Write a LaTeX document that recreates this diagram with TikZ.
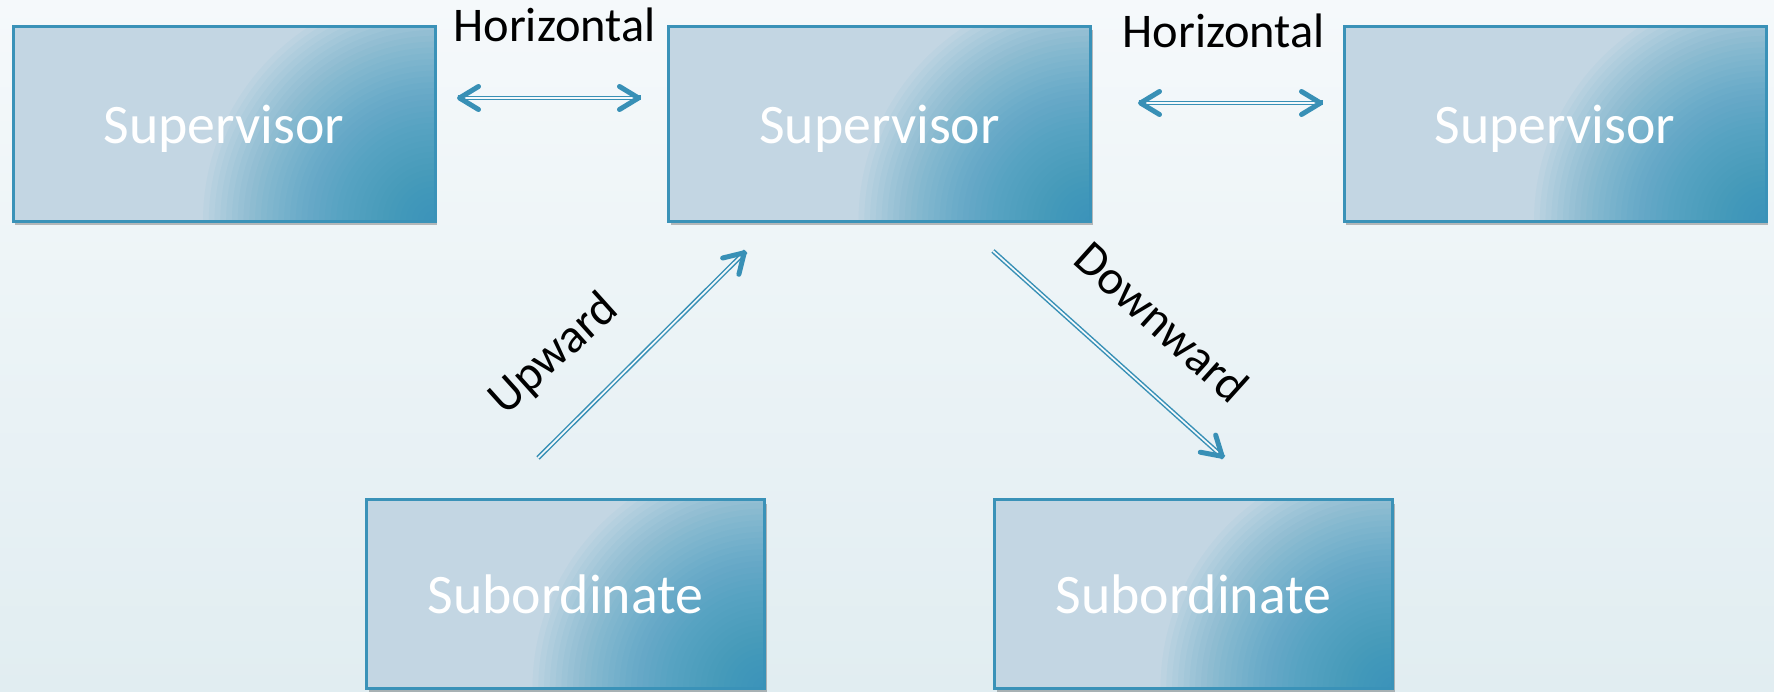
\documentclass[tikz,border=0pt]{standalone}
\usepackage{fontspec}
\setmainfont{Carlito}
\usetikzlibrary{arrows.meta,shadows,calc}

\definecolor{bgtop}{HTML}{F5F9FB}
\definecolor{bgbot}{HTML}{E1EDF1}
\definecolor{boxlight}{HTML}{C3D6E3}
\definecolor{boxdark}{HTML}{2A91BA}
\definecolor{boxedge}{HTML}{3A92B8}
\definecolor{arrowblue}{HTML}{3890B6}

\tikzset{
  rolebox/.style={
    draw=boxedge, line width=3pt, fill=boxlight,
    text=white, font=\fontsize{55.8}{60}\selectfont,
    inner sep=0pt, text depth=0pt,
    drop shadow={shadow xshift=2pt, shadow yshift=-4pt, fill=black, opacity=0.25},
    % darkening glow spreading from the lower right corner
    path picture={
      \foreach \k in {1,...,40}
        \fill[boxdark, opacity=0.045]
          (path picture bounding box.south east) circle ({5.8*\k pt});
    }},
  supbox/.style={rolebox, minimum width=422pt, minimum height=195pt},
  subbox/.style={rolebox, minimum width=398pt, minimum height=189pt},
  lbl/.style={text=black, font=\fontsize{48.4}{52}\selectfont, inner sep=0pt},
  shaft/.style={draw=arrowblue, line width=1.5pt, double=bgtop, double distance=1.7pt},
  barb/.style={draw=arrowblue, line width=5pt,
    -{Straight Barb[length=19pt, width=23pt, line width=5pt, round]}},
}

\begin{document}
\begin{tikzpicture}[x=1pt, y=-1pt]
  \useasboundingbox (0,0) rectangle (1774,692);
  % page background
  \shade[top color=bgtop, middle color=bgtop, bottom color=bgbot]
    (0,0) rectangle (1774,692);

  % supervisors and subordinates
  \node[supbox] (supL) at (224,124)    {Supervisor};
  \node[supbox] (supC) at (879.5,124)  {Supervisor};
  \node[supbox] (supR) at (1555,124)   {Supervisor};
  \node[subbox] (subL) at (565.5,594)  {Subordinate};
  \node[subbox] (subR) at (1193.5,594) {Subordinate};

  % arrow end points
  \coordinate (h1a) at (457,98);
  \coordinate (h1b) at (641,98);
  \coordinate (h2a) at (1138,103);
  \coordinate (h2b) at (1323,103);
  \coordinate (upA) at (538,458);
  \coordinate (upB) at (746,251);
  \coordinate (dnA) at (993,251);
  \coordinate (dnB) at (1224,458);

  % horizontal communication
  \draw[shaft, shorten <=5pt, shorten >=5pt] (h1a) -- (h1b);
  \draw[barb] ($(h1a)!0.5pt!(h1b)$) -- (h1a);
  \draw[barb] ($(h1b)!0.5pt!(h1a)$) -- (h1b);
  \draw[shaft, shorten <=5pt, shorten >=5pt] (h2a) -- (h2b);
  \draw[barb] ($(h2a)!0.5pt!(h2b)$) -- (h2a);
  \draw[barb] ($(h2b)!0.5pt!(h2a)$) -- (h2b);

  % upward and downward communication
  \draw[shaft, shorten >=5pt] (upA) -- (upB);
  \draw[barb] ($(upB)!0.5pt!(upA)$) -- (upB);
  \draw[shaft, shorten >=5pt] (dnA) -- (dnB);
  \draw[barb] ($(dnB)!0.5pt!(dnA)$) -- (dnB);

  % labels
  \node[lbl, anchor=base] (hl1) at (554.5,42) {Horizontal};
  \node[lbl, anchor=base] (hl2) at (1223.5,48) {Horizontal};
  \node[lbl, rotate=42]  (upl) at (554,355)  {Upward};
  \node[lbl, rotate=-42] (dnl) at (1162,322) {Downward};
\end{tikzpicture}
\end{document}
